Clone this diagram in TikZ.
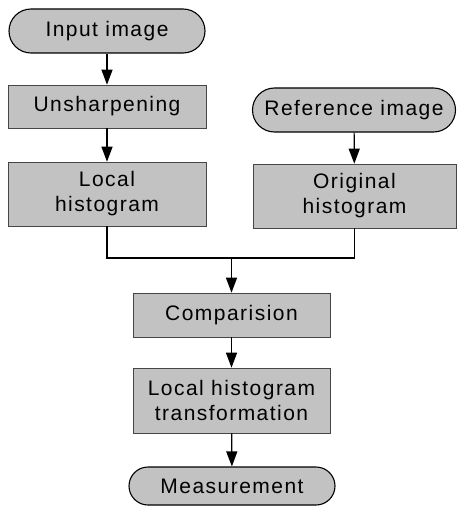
\documentclass[tikz,border=0pt]{standalone}
\usepackage{fontspec}
\newfontfamily\lblfont[LetterSpace=7]{Liberation Sans}
\usetikzlibrary{arrows.meta}
\definecolor{boxgray}{gray}{0.76}
\tikzset{
  lbl/.style={font={\lblfont\fontsize{21}{25}\selectfont}, align=center, inner sep=0pt},
  term/.style={lbl, draw=black, line width=1.1pt, fill=boxgray, rectangle, rounded corners=#1},
  stepbox/.style={lbl, draw=gray!55!black, line width=0.6pt, fill=boxgray, rectangle},
  conn/.style={line width=1.2pt, draw=black},
  arr/.style={conn, -{Triangle[length=15pt,width=11pt]}}
}
\begin{document}
\begin{tikzpicture}[x=1pt,y=-1pt]
\useasboundingbox (0,0) rectangle (456,508);
\fill[white] (0,0) rectangle (456,508);
\node[term=22pt, minimum width=196pt, minimum height=44pt] (in) at (107,31) {Input image};
\node[stepbox, minimum width=198pt, minimum height=43pt] (us) at (107,106.5) {Unsharpening};
\node[stepbox, minimum width=198pt, minimum height=64pt] (lh) at (107,194) {Local\\histogram};
\node[term=22pt, minimum width=203pt, minimum height=44pt] (ref) at (354,110) {Reference image};
\node[stepbox, minimum width=203pt, minimum height=64pt] (oh) at (354.5,196) {Original\\histogram};
\node[stepbox, minimum width=197pt, minimum height=44pt] (cmp) at (231.5,315) {Comparision};
\node[stepbox, minimum width=197pt, minimum height=65pt] (lht) at (231.5,400.5) {Local histogram\\transformation};
\node[term=19pt, minimum width=206pt, minimum height=38pt] (ms) at (232,486) {Measurement};
\coordinate (join) at (231.5,258);
\draw[arr] (in) -- (us);
\draw[arr] (us) -- (lh);
\draw[arr] (ref) -- (oh);
\draw[conn] (lh.south) |- (join) -| (oh.south);
\draw[arr] (join) -- (cmp.north);
\draw[arr] (cmp) -- (lht);
\draw[arr] (lht) -- (ms);
\end{tikzpicture}
\end{document}
